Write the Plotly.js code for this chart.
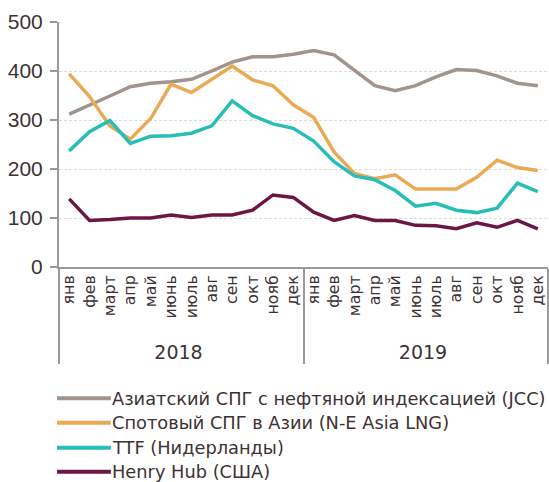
<!DOCTYPE html>
<html>
<head>
<meta charset="utf-8">
<script src="https://cdn.plot.ly/plotly-3.0.1.min.js"></script>
<style>
  body { margin: 0; background: #fff; }
  #chart { width: 549px; height: 482px; }
</style>
</head>
<body>
<div id="chart"></div>
<script>
var months = ['янв', 'фев', 'март', 'апр', 'май', 'июнь', 'июль', 'авг', 'сен', 'окт', 'нояб', 'дек'];
var years = ['2018', '2019'];

var jccVal = [312, 330, 349, 368, 375, 378, 383, 400, 418, 429, 429, 434,
              442, 433, 402, 370, 360, 370, 388, 403, 401, 390, 375, 370];
var spotVal = [394, 348, 288, 261, 303, 373, 356, 382, 410, 382, 370, 331,
               305, 235, 191, 180, 188, 159, 159, 159, 183, 218, 203, 197];
var ttfVal = [237, 276, 299, 252, 267, 268, 273, 288, 339, 309, 292, 283,
              257, 215, 186, 178, 156, 124, 130, 116, 111, 120, 171, 154];
var henryVal = [139, 95, 97, 100, 100, 106, 101, 106, 106, 116, 147, 142,
                112, 95, 105, 95, 95, 85, 84, 78, 90, 81, 95, 78];

var seriesNames = ['Азиатский СПГ с нефтяной индексацией (JCC)', 'Спотовый СПГ в Азии (N-E Asia LNG)',
                   'TTF (Нидерланды)', 'Henry Hub (США)'];
var seriesColors = ['rgb(160, 148, 140)', 'rgb(234, 170, 84)', 'rgb(40, 190, 184)', 'rgb(108, 22, 70)'];

// two-level category axis: year / month
// (the padding spaces before the month push the year row a bit lower,
//  the span makes the year a bit bigger than the months)
var xYear = [];
var xMonth = [];
years.forEach(function (y) {
    months.forEach(function (m) {
        xYear.push('<span style="font-size:19px">' + y + '</span>');
        xMonth.push('\u00a0\u00a0' + m);
    });
});

function createLineObject(y, name, color) {
    return {
        x: [xYear, xMonth],
        y: y,
        type: 'scatter',
        mode: 'lines',
        name: name,
        line: { width: 3.5, color: color }
    };
}

var data = [
    createLineObject(jccVal, seriesNames[0], seriesColors[0]),
    createLineObject(spotVal, seriesNames[1], seriesColors[1]),
    createLineObject(ttfVal, seriesNames[2], seriesColors[2]),
    createLineObject(henryVal, seriesNames[3], seriesColors[3])
];

var textColor = '#3d3234';

// legend drawn by hand so the sample lines can be long like in the original
var shapes = [];
var annotations = [];
var legendRows = [-0.536, -0.636, -0.738, -0.836];
seriesNames.forEach(function (name, i) {
    shapes.push({
        type: 'line', xref: 'paper', yref: 'paper',
        x0: -0.004, x1: 0.106, y0: legendRows[i], y1: legendRows[i],
        line: { color: seriesColors[i], width: 4 }
    });
    annotations.push({
        xref: 'paper', yref: 'paper', x: 0.105, y: legendRows[i],
        xanchor: 'left', yanchor: 'middle', showarrow: false,
        text: name,
        font: { family: 'DejaVu Sans', size: 17.8, color: textColor }
    });
});

var layout = {
    width: 549,
    height: 482,
    margin: { l: 59, r: 1, t: 22, b: 215 },
    paper_bgcolor: '#fff',
    plot_bgcolor: '#fff',
    font: { family: 'DejaVu Sans', color: textColor, size: 16 },
    showlegend: false,
    shapes: shapes,
    annotations: annotations,
    xaxis: {
        type: 'multicategory',
        range: [-0.5, 23.5],
        tickmode: 'linear',
        tick0: 0,
        dtick: 1,
        showline: true,
        linecolor: '#9a9a9a',
        linewidth: 2,
        // invisible ticks just push the month labels down
        ticks: 'outside',
        ticklen: 10,
        tickcolor: 'rgba(0,0,0,0)',
        tickangle: -90,
        tickfont: { family: 'DejaVu Sans', size: 15.8, color: textColor },
        showdividers: true,
        dividercolor: '#9a9a9a',
        dividerwidth: 2,
        showgrid: false,
        zeroline: false,
        automargin: false
    },
    yaxis: {
        range: [0, 500],
        dtick: 100,
        showline: true,
        linecolor: '#9a9a9a',
        linewidth: 2,
        ticks: 'outside',
        ticklen: 7,
        tickcolor: '#9a9a9a',
        tickwidth: 2,
        ticklabelstandoff: 3,
        tickfont: { family: 'Liberation Sans', size: 21, color: textColor },
        showgrid: true,
        gridcolor: '#dcdcdc',
        griddash: '3px,2px',
        zeroline: false,
        automargin: false
    }
};

Plotly.newPlot('chart', data, layout, { displayModeBar: false });
</script>
</body>
</html>
